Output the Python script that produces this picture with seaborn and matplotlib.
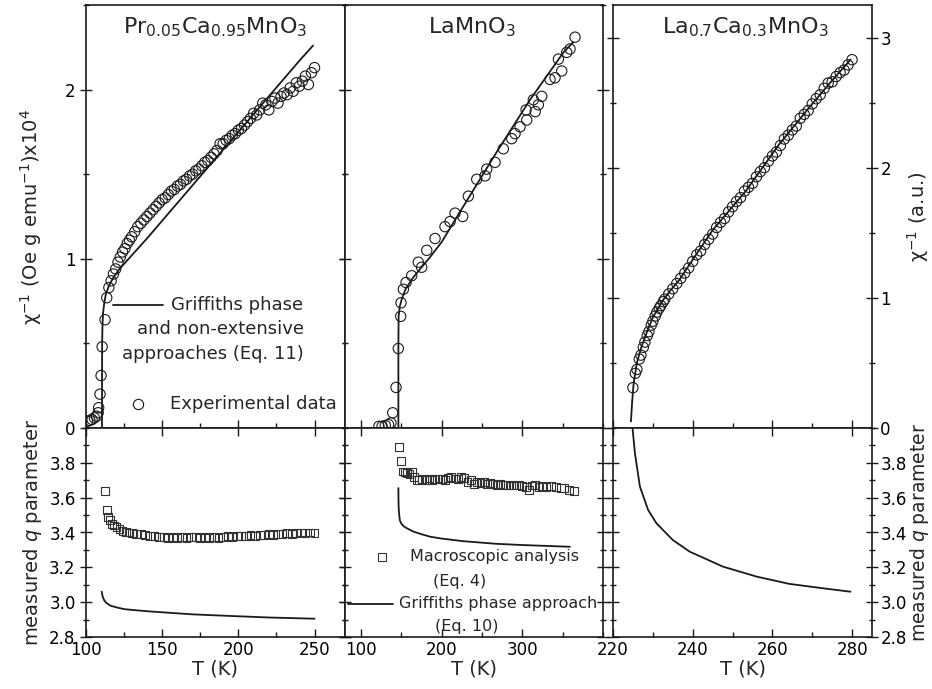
import seaborn as sns
import matplotlib.pyplot as plt
from matplotlib.lines import Line2D
from matplotlib.ticker import MultipleLocator

sns.set_theme(style="ticks")
plt.rcParams['font.family'] = ['DejaVu Sans']
plt.rcParams['mathtext.fontset'] = 'dejavusans'

# ---- Pr0.05Ca0.95MnO3 : inverse susceptibility ----
T_pcmo = [101, 102.5, 104, 105.5, 107, 108, 108.3, 109.2, 109.9, 110.6, 112.5, 113.6,
          115, 116.5, 118, 119.5, 121, 122.5, 124, 125.5, 127, 128.5, 130, 132, 134,
          136, 138, 140, 142, 144, 146, 148, 150, 152, 154, 156, 158, 160, 162, 164,
          166, 168, 170, 172, 174, 176, 178, 180, 182, 184, 186, 188, 190, 192, 194,
          196, 198, 200, 202, 204, 206, 208, 210, 212, 214, 216, 218, 220, 222, 224,
          226, 228, 230, 232, 234, 236, 238, 240, 242, 244, 246, 248, 250]
chi_pcmo = [0.04, 0.045, 0.05, 0.06, 0.07, 0.09, 0.12, 0.20, 0.31, 0.48, 0.64, 0.77,
            0.83, 0.87, 0.91, 0.94, 0.98, 1.01, 1.04, 1.06, 1.09, 1.11, 1.13, 1.16, 1.19,
            1.21, 1.23, 1.25, 1.27, 1.29, 1.31, 1.33, 1.35, 1.36, 1.38, 1.40, 1.41, 1.43,
            1.44, 1.46, 1.47, 1.49, 1.50, 1.52, 1.53, 1.55, 1.57, 1.58, 1.60, 1.62, 1.64,
            1.68, 1.68, 1.70, 1.71, 1.73, 1.74, 1.76, 1.77, 1.79, 1.81, 1.83, 1.86, 1.85,
            1.88, 1.92, 1.91, 1.88, 1.93, 1.95, 1.92, 1.96, 1.98, 1.97, 2.01, 1.99, 2.04,
            2.02, 2.05, 2.08, 2.03, 2.10, 2.13]
T_pcmo_fit = [110.5, 110.52, 110.6, 110.8, 111.2, 112, 113, 115, 118, 122, 128, 140,
              160, 180, 200, 220, 240, 249]
chi_pcmo_fit = [0.0, 0.30, 0.50, 0.60, 0.68, 0.74, 0.79, 0.84, 0.89, 0.94, 1.00, 1.12,
                1.33, 1.54, 1.75, 1.96, 2.17, 2.26]

# ---- LaMnO3 : inverse susceptibility ----
T_lmo = [122, 126, 130, 134, 137, 139.2, 143.3, 146.1, 149.1, 149.5, 152.4, 155.7, 162.7,
         170.9, 175.1, 181.4, 191.7, 204, 210.3, 216.5, 226, 233, 243.4, 253.7, 255.8,
         266.1, 276.4, 286.8, 290.9, 297.1, 304.6, 305.4, 313.6, 315.9, 319.8, 324,
         334.3, 340.5, 344.7, 348.8, 355, 359.1, 365.3]
chi_lmo = [0.01, 0.01, 0.015, 0.02, 0.03, 0.09, 0.24, 0.47, 0.66, 0.74, 0.82, 0.86, 0.90,
           0.98, 0.95, 1.05, 1.12, 1.19, 1.22, 1.27, 1.25, 1.37, 1.47, 1.49, 1.53, 1.57,
           1.65, 1.71, 1.74, 1.78, 1.88, 1.82, 1.94, 1.87, 1.91, 1.96, 2.06, 2.07, 2.18,
           2.11, 2.22, 2.24, 2.31]
T_lmo_fit = [146.2, 146.22, 146.5, 148, 150.3, 155, 164.7, 175, 185.5, 200, 226.8, 268,
             309.5, 351, 363]
chi_lmo_fit = [0.0, 0.50, 0.66, 0.72, 0.76, 0.82, 0.89, 0.95, 1.01, 1.10, 1.31, 1.63,
               1.94, 2.22, 2.28]

# ---- La0.7Ca0.3MnO3 : inverse susceptibility (a.u.) ----
T_lcmo = [225, 225.6, 226, 226.6, 227, 227.6, 228, 228.6, 229, 229.6, 230, 230.6, 231,
          231.6, 232, 232.6, 233, 234, 235, 236, 237, 238, 239, 240, 241, 242, 243, 244,
          245, 246, 247, 248, 249, 250, 251, 252, 253, 254, 255, 256, 257, 258, 259, 260,
          261, 262, 263, 264, 265, 266, 267, 268, 269, 270, 271, 272, 273, 274, 275, 276,
          277, 278, 279, 280]
chi_lcmo = [0.31, 0.42, 0.45, 0.53, 0.56, 0.62, 0.66, 0.71, 0.74, 0.79, 0.82, 0.86, 0.89,
            0.92, 0.94, 0.97, 0.99, 1.03, 1.07, 1.11, 1.15, 1.19, 1.23, 1.28, 1.33, 1.36,
            1.41, 1.45, 1.49, 1.54, 1.58, 1.61, 1.66, 1.70, 1.74, 1.77, 1.82, 1.85, 1.88,
            1.93, 1.97, 2.00, 2.05, 2.09, 2.12, 2.17, 2.22, 2.25, 2.29, 2.32, 2.38, 2.41,
            2.44, 2.49, 2.53, 2.56, 2.61, 2.65, 2.66, 2.70, 2.73, 2.75, 2.79, 2.83]
T_lcmo_fit = [224.5, 224.8, 225.2, 226, 227, 228.3, 230, 232.5, 234.5, 236.7, 240.8, 245,
              253.3, 261.7, 270, 275, 279.6]
chi_lcmo_fit = [0.05, 0.20, 0.35, 0.50, 0.61, 0.72, 0.85, 0.98, 1.06, 1.14, 1.33, 1.52,
                1.82, 2.18, 2.49, 2.67, 2.83]

# ---- measured q parameter ----
T_q_pcmo = [112.5, 113.6, 114.7, 115.8, 117, 118.5, 120, 122, 124, 126, 128, 130, 133, 136,
            139, 142, 145, 148, 151, 154, 157, 160, 163, 166, 169, 172, 175, 178, 181, 184,
            187, 190, 193, 196, 199, 202, 205, 208, 211, 214, 217, 220, 223, 226, 229, 232,
            235, 238, 241, 244, 247, 250]
q_pcmo = [3.64, 3.53, 3.49, 3.47, 3.45, 3.44, 3.43, 3.42, 3.41, 3.405, 3.40, 3.395, 3.39,
          3.39, 3.385, 3.38, 3.38, 3.375, 3.375, 3.37, 3.375, 3.37, 3.375, 3.37, 3.375,
          3.375, 3.37, 3.375, 3.37, 3.375, 3.37, 3.375, 3.38, 3.375, 3.38, 3.38, 3.38,
          3.385, 3.38, 3.385, 3.385, 3.39, 3.385, 3.39, 3.39, 3.395, 3.39, 3.395, 3.40,
          3.395, 3.40, 3.395]
T_qfit_pcmo = [110.3, 111, 112, 113.5, 116, 120, 125, 131, 140, 153, 170, 197, 220, 250]
qfit_pcmo = [3.06, 3.03, 3.01, 2.995, 2.98, 2.97, 2.96, 2.955, 2.948, 2.94, 2.93, 2.92,
             2.912, 2.905]

T_q_lmo = [147.4, 149.5, 151.6, 154, 157, 160, 163, 166, 169, 172, 176, 180, 184, 188, 192,
           196, 200, 204, 208, 212, 216, 220, 224, 228, 232, 236, 240, 244, 248, 252, 256,
           260, 264, 268, 272, 276, 280, 284, 288, 292, 296, 300, 304, 308, 312, 316, 320,
           324, 330, 336, 342, 348, 352, 358, 364]
q_lmo = [3.89, 3.81, 3.75, 3.745, 3.74, 3.735, 3.745, 3.72, 3.70, 3.70, 3.705, 3.70, 3.71,
         3.70, 3.705, 3.71, 3.705, 3.70, 3.715, 3.72, 3.71, 3.705, 3.72, 3.715, 3.69, 3.70,
         3.68, 3.69, 3.685, 3.69, 3.68, 3.685, 3.68, 3.675, 3.68, 3.675, 3.675, 3.67,
         3.675, 3.67, 3.675, 3.665, 3.66, 3.645, 3.67, 3.675, 3.66, 3.665, 3.66, 3.665,
         3.66, 3.655, 3.655, 3.645, 3.64]
T_qfit_lmo = [146.2, 146.3, 146.5, 147, 148, 150, 153, 156.5, 165, 175, 185.5, 200, 226.8,
              268, 300, 330, 359]
qfit_lmo = [3.655, 3.60, 3.55, 3.51, 3.47, 3.45, 3.435, 3.425, 3.405, 3.39, 3.376, 3.365,
            3.35, 3.335, 3.328, 3.323, 3.318]

T_qfit_lcmo = [224.85, 224.9, 225.5, 226.75, 228.8, 230.9, 235, 239.25, 247.6, 256, 264.25,
               272.6, 279.6]
qfit_lcmo = [4.05, 4.0, 3.855, 3.664, 3.53, 3.453, 3.357, 3.29, 3.204, 3.147, 3.105, 3.08,
             3.06]

TICK_FS = 12
LABEL_FS = 14
TITLE_FS = 16
LEG_FS = 13
LEG_FS_SMALL = 11.5
INK = '#1a1a1a'

fig = plt.figure(figsize=(9.32, 6.89), dpi=100)
W, H = 932.0, 689.0


def add_axes_px(x0, y0, x1, y1):
    return fig.add_axes([x0 / W, 1 - y1 / H, (x1 - x0) / W, (y1 - y0) / H])


ax_tl = add_axes_px(86, 5, 345, 428)
ax_tm = add_axes_px(345, 5, 603, 428)
ax_tr = add_axes_px(613, 5, 872, 428)
ax_bl = add_axes_px(86, 428, 345, 637)
ax_bm = add_axes_px(345, 428, 603, 637)
ax_br = add_axes_px(613, 428, 872, 637)


def circles(ax, x, y):
    sns.scatterplot(x=x, y=y, ax=ax, marker='o', s=55, facecolor='none',
                    edgecolor=INK, linewidth=0.8, legend=False, zorder=3)


def squares(ax, x, y):
    sns.scatterplot(x=x, y=y, ax=ax, marker='s', s=32, facecolor='none',
                    edgecolor='#333333', linewidth=0.8, legend=False, zorder=3)


def fit_line(ax, x, y):
    sns.lineplot(x=x, y=y, ax=ax, color=INK, linewidth=1.3, sort=False,
                 estimator=None, legend=False, zorder=2)


circles(ax_tl, T_pcmo, chi_pcmo)
fit_line(ax_tl, T_pcmo_fit, chi_pcmo_fit)
circles(ax_tm, T_lmo, chi_lmo)
fit_line(ax_tm, T_lmo_fit, chi_lmo_fit)
circles(ax_tr, T_lcmo, chi_lcmo)
fit_line(ax_tr, T_lcmo_fit, chi_lcmo_fit)

squares(ax_bl, T_q_pcmo, q_pcmo)
fit_line(ax_bl, T_qfit_pcmo, qfit_pcmo)
squares(ax_bm, T_q_lmo, q_lmo)
fit_line(ax_bm, T_qfit_lmo, qfit_lmo)
fit_line(ax_br, T_qfit_lcmo, qfit_lcmo)

# axis ranges and ticks
for ax in (ax_tl, ax_bl):
    ax.set_xlim(100, 270)
    ax.set_xticks([100, 150, 200, 250])
    ax.xaxis.set_minor_locator(MultipleLocator(25))
for ax in (ax_tm, ax_bm):
    ax.set_xlim(80, 400)
    ax.set_xticks([100, 200, 300])
    ax.xaxis.set_minor_locator(MultipleLocator(50))
for ax in (ax_tr, ax_br):
    ax.set_xlim(220, 285)
    ax.set_xticks([220, 240, 260, 280])
    ax.xaxis.set_minor_locator(MultipleLocator(10))

for ax in (ax_tl, ax_tm):
    ax.set_ylim(0, 2.5)
    ax.set_yticks([0, 1, 2])
    ax.yaxis.set_minor_locator(MultipleLocator(0.5))
ax_tr.set_ylim(0, 3.25)
ax_tr.set_yticks([0, 1, 2, 3])
ax_tr.yaxis.set_minor_locator(MultipleLocator(0.5))
for ax in (ax_bl, ax_bm, ax_br):
    ax.set_ylim(2.8, 4.0)
    ax.set_yticks([2.8, 3.0, 3.2, 3.4, 3.6, 3.8])
    ax.set_yticklabels(['2.8', '3.0', '3.2', '3.4', '3.6', '3.8'])
    ax.yaxis.set_minor_locator(MultipleLocator(0.1))

for ax in (ax_tl, ax_tm, ax_tr, ax_bl, ax_bm, ax_br):
    ax.set_xlabel('')
    ax.set_ylabel('')
    for sp in ax.spines.values():
        sp.set_visible(True)
        sp.set_linewidth(1.2)
        sp.set_color(INK)
    ax.tick_params(which='both', direction='inout', left=True, right=True,
                   bottom=True, top=False, colors=INK, labelsize=TICK_FS,
                   labelcolor='black', width=1.0)
    ax.tick_params(axis='x', which='both', direction='in')
    ax.tick_params(which='major', length=8)
    ax.tick_params(which='minor', length=4.5)
    ax.tick_params(axis='x', which='major', length=6)
    ax.tick_params(axis='x', which='minor', length=3.5)

for ax in (ax_tl, ax_tm, ax_tr):
    ax.tick_params(axis='x', labelbottom=False)
for ax in (ax_bl, ax_bm, ax_br):
    ax.tick_params(axis='x', top=True, pad=3)
    ax.set_xlabel('T (K)', fontsize=LABEL_FS, labelpad=0)
for ax in (ax_tm, ax_bm):
    ax.tick_params(axis='y', labelleft=False)
for ax in (ax_tr, ax_br):
    ax.tick_params(axis='y', labelleft=False, labelright=True, pad=2)
    ax.yaxis.set_label_position('right')

ax_tl.set_ylabel('\u03c7$^{-1}$ (Oe g emu$^{-1}$)x10$^{4}$', fontsize=LABEL_FS, labelpad=15)
ax_bl.set_ylabel('measured $q$ parameter', fontsize=LABEL_FS, labelpad=4)
ax_tr.set_ylabel('\u03c7$^{-1}$ (a.u.)', fontsize=LABEL_FS, labelpad=10)
ax_br.set_ylabel('measured $q$ parameter', fontsize=13.5, labelpad=1)

# sample names inside the top panels
ax_tl.text(0.5, 0.975, r'Pr$_{0.05}$Ca$_{0.95}$MnO$_3$', transform=ax_tl.transAxes,
           ha='center', va='top', fontsize=TITLE_FS)
ax_tm.text(0.49, 0.975, r'LaMnO$_3$', transform=ax_tm.transAxes,
           ha='center', va='top', fontsize=TITLE_FS)
ax_tr.text(0.51, 0.975, r'La$_{0.7}$Ca$_{0.3}$MnO$_3$', transform=ax_tr.transAxes,
           ha='center', va='top', fontsize=TITLE_FS)

# legend keys (drawn by hand so the text can wrap like in the original)
ax_tl.add_line(Line2D([0.104, 0.297], [0.291, 0.291], transform=ax_tl.transAxes,
                      color=INK, linewidth=1.3))
ax_tl.text(0.84, 0.312, 'Griffiths phase\nand non-extensive\napproaches (Eq. 11)',
           transform=ax_tl.transAxes, ha='right', va='top', fontsize=LEG_FS,
           linespacing=1.45, multialignment='right')
ax_tl.add_line(Line2D([0.2], [0.057], transform=ax_tl.transAxes, marker='o',
                      markersize=7.4, markerfacecolor='none', markeredgecolor=INK,
                      markeredgewidth=0.8, linestyle='none'))
ax_tl.text(0.324, 0.057, 'Experimental data', transform=ax_tl.transAxes,
           ha='left', va='center', fontsize=LEG_FS)

ax_bm.add_line(Line2D([0.142], [0.384], transform=ax_bm.transAxes, marker='s',
                      markersize=5.7, markerfacecolor='none', markeredgecolor='#333333',
                      markeredgewidth=0.8, linestyle='none'))
ax_bm.text(0.252, 0.384, 'Macroscopic analysis', transform=ax_bm.transAxes,
           ha='left', va='center', fontsize=LEG_FS_SMALL)
ax_bm.text(0.341, 0.265, '(Eq. 4)', transform=ax_bm.transAxes,
           ha='left', va='center', fontsize=LEG_FS_SMALL)
ax_bm.add_line(Line2D([0.012, 0.186], [0.158, 0.158], transform=ax_bm.transAxes,
                      color=INK, linewidth=1.3))
ax_bm.text(0.209, 0.158, 'Griffiths phase approach', transform=ax_bm.transAxes,
           ha='left', va='center', fontsize=LEG_FS_SMALL)
ax_bm.text(0.349, 0.049, '(Eq. 10)', transform=ax_bm.transAxes,
           ha='left', va='center', fontsize=LEG_FS_SMALL)

fig.savefig('out.png', dpi=100, facecolor='white')
